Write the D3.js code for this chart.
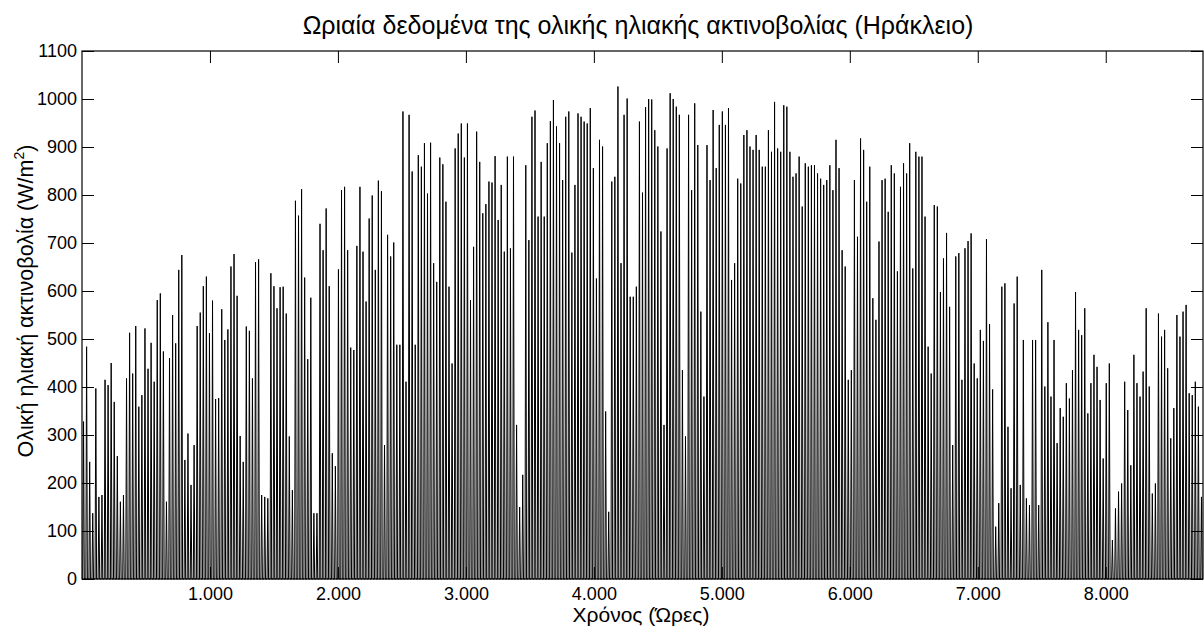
<!DOCTYPE html>
<html lang="el">
<head>
    <meta charset="UTF-8">
    <title>Ωριαία δεδομένα ηλιακής ακτινοβολίας</title>
    <script src="https://cdn.jsdelivr.net/npm/d3@7/dist/d3.min.js"></script>
    <style>
        body { margin: 0; background: #fff; }
        svg { display: block; font-family: "Liberation Sans", Arial, sans-serif; }
        .axis text { font-size: 18px; fill: #000; }
        .axis line { stroke: #000; }
    </style>
</head>
<body>
<svg width="1204" height="630"></svg>

<script>
    // daily peak of hourly global irradiance (W/m2), in 4 stretches of the year
    var peaksDays1to91 = [328,484,244,137,397,171,175,415,404,450,369,256,161,175,418,513,428,527,359,383,
        522,438,492,411,581,595,474,161,460,550,491,644,675,248,303,196,279,527,555,610,
        630,512,580,375,377,562,498,520,651,677,590,298,244,526,517,418,660,666,175,171,
        168,637,610,564,608,609,553,297,185,788,757,812,628,458,586,137,137,740,685,772,
        610,262,235,645,810,817,685,482,477,694,817];
    var peaksDays92to179 = [682,578,751,799,644,830,808,279,717,672,701,488,488,974,411,967,849,488,883,859,
        908,803,909,658,619,878,864,786,609,449,897,928,949,878,949,581,692,932,869,762,
        781,828,826,881,748,821,682,880,689,880,321,150,217,862,706,963,976,755,869,755,
        908,954,998,943,908,831,963,974,680,821,970,963,953,949,981,856,626,915,901,349,
        140,828,838,1026,658,967,1001,588];
    var peaksDays180to267 = [588,609,953,805,983,1000,999,935,901,724,321,897,1012,1000,984,967,435,297,967,810,
        991,904,557,380,904,831,977,856,946,974,946,981,623,658,834,824,925,935,901,894,
        925,894,859,859,935,890,994,897,890,987,984,890,838,845,880,776,866,859,862,862,
        845,834,821,831,862,810,915,856,685,651,415,435,831,713,918,894,786,859,585,540,
        703,831,834,765,862,845,641,817];
    var peaksDays268to365 = [866,845,908,647,890,880,880,755,484,428,779,776,598,668,721,567,279,672,679,415,
        689,704,720,449,418,519,496,708,531,395,109,158,609,616,317,189,574,630,196,498,
        168,154,498,498,154,644,401,535,380,498,283,356,338,408,376,435,598,519,508,564,
        345,408,467,442,373,251,408,449,81,147,182,199,411,352,237,467,408,380,432,564,
        401,178,199,553,505,519,439,293,356,550,505,557,571,387,383,411,359,171];

    var yTicks = [0,100,200,300,400,500,600,700,800,900,1000,1100];
    var xTicks = [1000,2000,3000,4000,5000,6000,7000,8000];
    var xTickLabels = ["1.000","2.000","3.000","4.000","5.000","6.000","7.000","8.000"];

    var peaks = peaksDays1to91.concat(peaksDays92to179, peaksDays180to267, peaksDays268to365);

    // each day: dark until sunrise, peak at noon, dark after sunset
    var hourly = [];
    peaks.forEach(function (p, i) {
        hourly.push([i * 24 + 6, 0], [i * 24 + 12, p], [i * 24 + 18, 0]);
    });

    var padding = {top: 51, right: 1, bottom: 51, left: 82};
    var width = 1204, height = 630;

    var xScale = d3.scaleLinear().domain([0, 8760]).range([padding.left, width - padding.right]);
    var yScale = d3.scaleLinear().domain([0, 1100]).range([height - padding.bottom, padding.top]);

    var svg = d3.select('svg');

    var linePath = d3.line()
        .x(function (d) { return xScale(d[0]); })
        .y(function (d) { return yScale(d[1]); });

    svg.append('path')
        .attr('d', linePath(hourly))
        .attr('fill', 'none')
        .attr('stroke', '#000')
        .attr('stroke-width', 1);

    // frame
    svg.append('rect')
        .attr('x', xScale(0)).attr('y', yScale(1100))
        .attr('width', xScale(8760) - xScale(0))
        .attr('height', yScale(0) - yScale(1100))
        .attr('fill', 'none').attr('stroke', '#000').attr('stroke-width', 1.2);

    // ticks point inwards, like matlab
    svg.append('g').attr('class', 'axis')
        .attr('transform', 'translate(' + xScale(0) + ',0)')
        .call(d3.axisLeft(yScale).tickValues(yTicks).tickSize(-12).tickSizeOuter(0).tickPadding(5)
            .tickFormat(d3.format('d')))
        .call(function (g) { g.select('.domain').remove(); });

    svg.append('g').attr('class', 'axis')
        .attr('transform', 'translate(' + xScale(8760) + ',0)')
        .call(d3.axisRight(yScale).tickValues(yTicks).tickSize(-12).tickSizeOuter(0).tickFormat(''))
        .call(function (g) { g.select('.domain').remove(); });

    svg.append('g').attr('class', 'axis')
        .attr('transform', 'translate(0,' + yScale(0) + ')')
        .call(d3.axisBottom(xScale).tickValues(xTicks).tickSize(-12).tickSizeOuter(0).tickPadding(8)
            .tickFormat(function (d, i) { return xTickLabels[i]; }))
        .call(function (g) { g.select('.domain').remove(); });

    svg.append('g').attr('class', 'axis')
        .attr('transform', 'translate(0,' + yScale(1100) + ')')
        .call(d3.axisTop(xScale).tickValues(xTicks).tickSize(-12).tickSizeOuter(0).tickFormat(''))
        .call(function (g) { g.select('.domain').remove(); });

    // titles
    svg.append('text')
        .attr('x', 638).attr('y', 34)
        .attr('text-anchor', 'middle')
        .style('font-size', '25px')
        .text('Ωριαία δεδομένα της ολικής ηλιακής ακτινοβολίας (Ηράκλειο)');

    svg.append('text')
        .attr('x', 641).attr('y', 622)
        .attr('text-anchor', 'middle')
        .style('font-size', '21px')
        .text('Χρόνος (Ώρες)');

    var yLabel = svg.append('text')
        .attr('transform', 'translate(33,301) rotate(-90)')
        .attr('text-anchor', 'middle')
        .style('font-size', '21.5px');
    yLabel.append('tspan').text('Ολική ηλιακή ακτινοβολία (W/m');
    yLabel.append('tspan').attr('dy', -9).style('font-size', '14px').text('2');
    yLabel.append('tspan').attr('dy', 9).text(')');
</script>
</body>
</html>
